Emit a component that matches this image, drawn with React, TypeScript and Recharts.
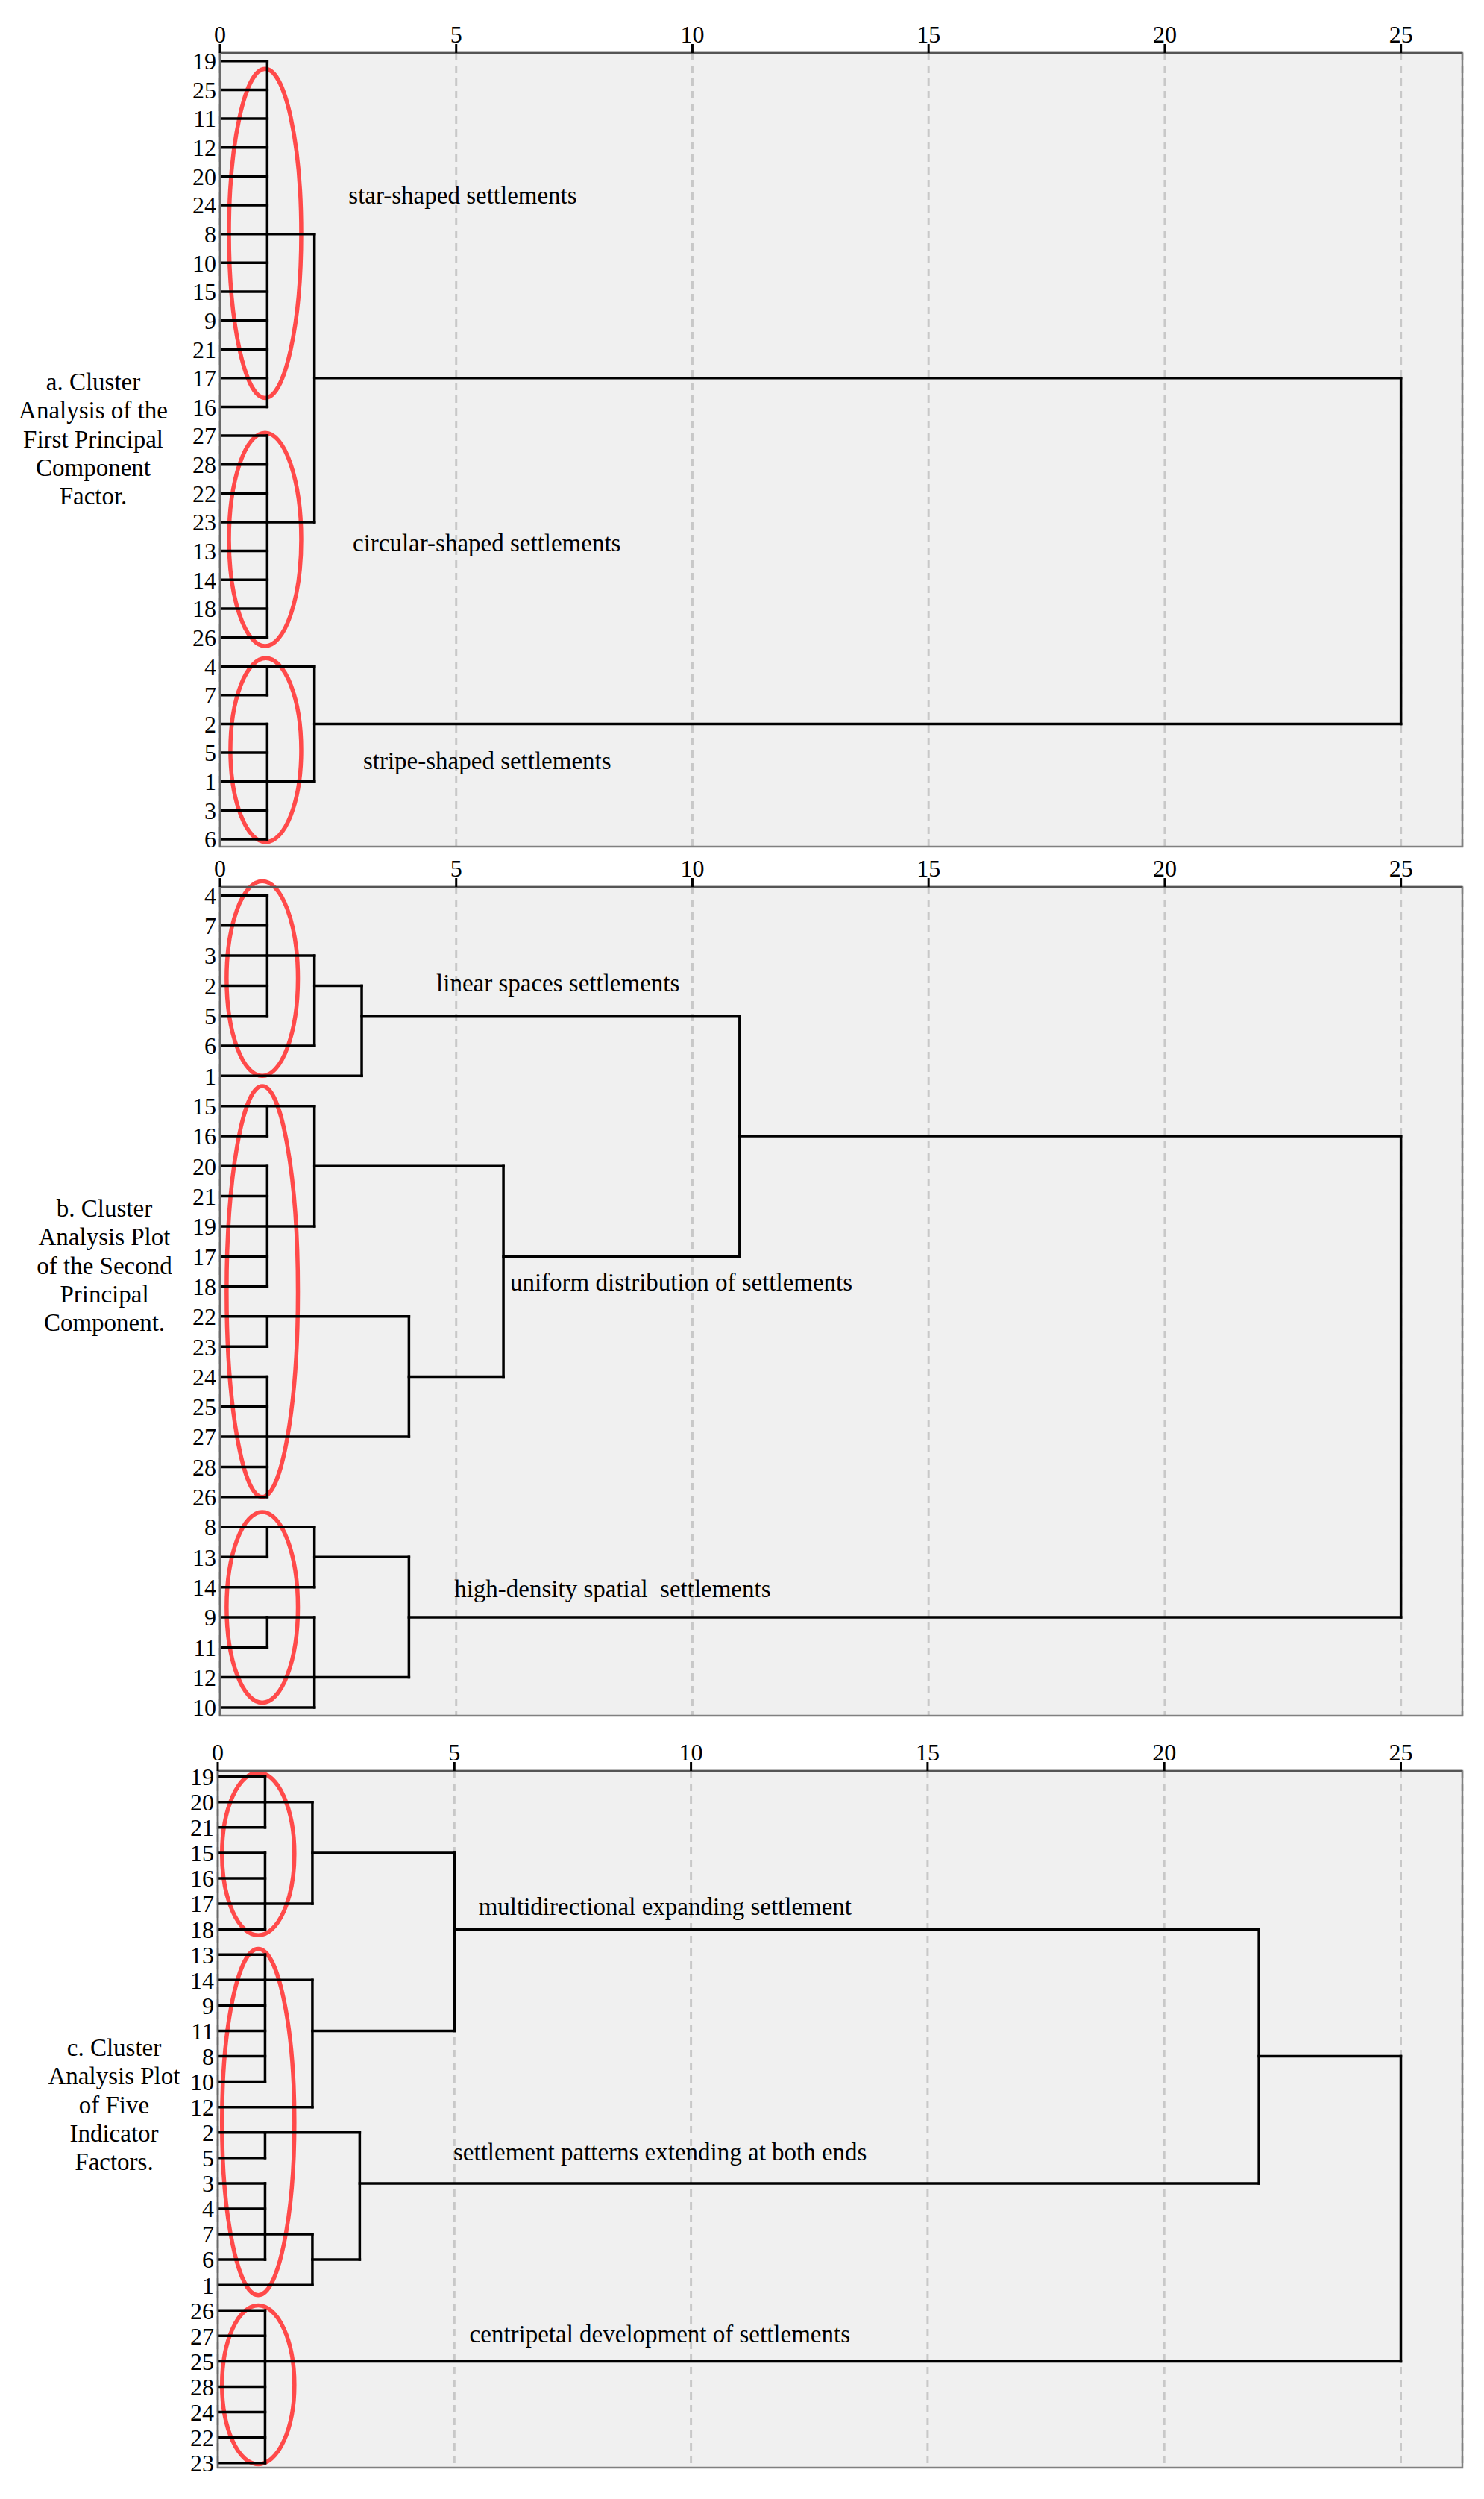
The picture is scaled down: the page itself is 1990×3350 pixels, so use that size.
import React from 'react';
import { ComposedChart, Line, XAxis, YAxis, CartesianGrid, ReferenceArea, ReferenceDot } from 'recharts';

const FONT = '"Liberation Serif", "Times New Roman", serif';
const X_TICKS = [0, 5, 10, 15, 20, 25];
const X_MAX = 26.3;

// leaf order (top to bottom) for each dendrogram
const LEAVES_A = ['19', '25', '11', '12', '20', '24', '8', '10', '15', '9', '21', '17', '16', '27', '28', '22', '23', '13', '14', '18', '26', '4', '7', '2', '5', '1', '3', '6'];
const LEAVES_B = ['4', '7', '3', '2', '5', '6', '1', '15', '16', '20', '21', '19', '17', '18', '22', '23', '24', '25', '27', '28', '26', '8', '13', '14', '9', '11', '12', '10'];
const LEAVES_C = ['19', '20', '21', '15', '16', '17', '18', '13', '14', '9', '11', '8', '10', '12', '2', '5', '3', '4', '7', '6', '1', '26', '27', '25', '28', '24', '22', '23'];

// merges: h = rescaled distance, at = leaf row where the joined cluster leaves, kids = leaves or '#node'
type Merge = { id: string; h: number; at: string; kids: string[] };

const MERGES_A: Merge[] = [
  { id: 'a1', h: 1, at: '8', kids: ['19', '25', '11', '12', '20', '24', '8', '10', '15', '9', '21', '17', '16'] },
  { id: 'a2', h: 1, at: '23', kids: ['27', '28', '22', '23', '13', '14', '18', '26'] },
  { id: 'a3', h: 2, at: '17', kids: ['#a1', '#a2'] },
  { id: 'a4', h: 1, at: '4', kids: ['4', '7'] },
  { id: 'a5', h: 1, at: '1', kids: ['2', '5', '1', '3', '6'] },
  { id: 'a6', h: 2, at: '2', kids: ['#a4', '#a5'] },
  { id: 'a7', h: 25, at: '', kids: ['#a3', '#a6'] },
];

const MERGES_B: Merge[] = [
  { id: 'b1', h: 1, at: '3', kids: ['4', '7', '3', '2', '5'] },
  { id: 'b2', h: 2, at: '2', kids: ['#b1', '6'] },
  { id: 'b3', h: 3, at: '5', kids: ['#b2', '1'] },
  { id: 'b4', h: 1, at: '15', kids: ['15', '16'] },
  { id: 'b5', h: 1, at: '19', kids: ['20', '21', '19', '17', '18'] },
  { id: 'b6', h: 2, at: '20', kids: ['#b4', '#b5'] },
  { id: 'b7', h: 1, at: '22', kids: ['22', '23'] },
  { id: 'b8', h: 1, at: '27', kids: ['24', '25', '27', '28', '26'] },
  { id: 'b9', h: 4, at: '24', kids: ['#b7', '#b8'] },
  { id: 'b10', h: 6, at: '17', kids: ['#b6', '#b9'] },
  { id: 'b11', h: 11, at: '16', kids: ['#b3', '#b10'] },
  { id: 'b12', h: 1, at: '8', kids: ['8', '13'] },
  { id: 'b13', h: 2, at: '13', kids: ['#b12', '14'] },
  { id: 'b14', h: 1, at: '9', kids: ['9', '11'] },
  { id: 'b15', h: 2, at: '12', kids: ['#b14', '12', '10'] },
  { id: 'b16', h: 4, at: '9', kids: ['#b13', '#b15'] },
  { id: 'b17', h: 25, at: '', kids: ['#b11', '#b16'] },
];

const MERGES_C: Merge[] = [
  { id: 'c1', h: 1, at: '20', kids: ['19', '20', '21'] },
  { id: 'c2', h: 1, at: '17', kids: ['15', '16', '17', '18'] },
  { id: 'c3', h: 2, at: '15', kids: ['#c1', '#c2'] },
  { id: 'c4', h: 1, at: '14', kids: ['13', '14', '9', '11', '8', '10'] },
  { id: 'c5', h: 2, at: '11', kids: ['#c4', '12'] },
  { id: 'c6', h: 5, at: '18', kids: ['#c3', '#c5'] },
  { id: 'c7', h: 1, at: '2', kids: ['2', '5'] },
  { id: 'c8', h: 1, at: '7', kids: ['3', '4', '7', '6'] },
  { id: 'c9', h: 2, at: '6', kids: ['#c8', '1'] },
  { id: 'c10', h: 3, at: '3', kids: ['#c7', '#c9'] },
  { id: 'c11', h: 22, at: '8', kids: ['#c6', '#c10'] },
  { id: 'c12', h: 1, at: '25', kids: ['26', '27', '25', '28', '24', '22', '23'] },
  { id: 'c13', h: 25, at: '', kids: ['#c11', '#c12'] },
];

// group captions (anchor in data units: distance, leaf row)
const NOTES_A = [
  { text: 'star-shaped settlements', x: 2.72, y: 4.67 },
  { text: 'circular-shaped settlements', x: 2.81, y: 16.73 },
  { text: 'stripe-shaped settlements', x: 3.03, y: 24.29 },
];
const NOTES_B = [
  { text: 'linear spaces settlements', x: 4.58, y: 2.92 },
  { text: 'uniform distribution of settlements', x: 6.14, y: 12.87 },
  { text: 'high-density spatial  settlements', x: 4.96, y: 23.07 },
];
const NOTES_C = [
  { text: 'multidirectional expanding settlement', x: 5.51, y: 5.12 },
  { text: 'settlement patterns extending at both ends', x: 4.98, y: 14.78 },
  { text: 'centripetal development of settlements', x: 5.32, y: 21.92 },
];

// red rings around the groups
const RINGS_A = [
  { x1: 0.19, x2: 1.72, y1: 0.27, y2: 11.69 },
  { x1: 0.19, x2: 1.72, y1: 12.9, y2: 20.3 },
  { x1: 0.22, x2: 1.72, y1: 20.72, y2: 27.1 },
];
const RINGS_B = [
  { x1: 0.14, x2: 1.65, y1: -0.48, y2: 6.0 },
  { x1: 0.14, x2: 1.65, y1: 6.34, y2: 20.0 },
  { x1: 0.14, x2: 1.65, y1: 20.5, y2: 26.84 },
];
const RINGS_C = [
  { x1: 0.09, x2: 1.62, y1: -0.16, y2: 6.24 },
  { x1: 0.09, x2: 1.62, y1: 6.77, y2: 20.4 },
  { x1: 0.09, x2: 1.62, y1: 20.8, y2: 27.05 },
];

const TITLE_A = ['a. Cluster', 'Analysis of the', 'First Principal', 'Component', 'Factor.'];
const TITLE_B = ['b. Cluster', 'Analysis Plot', 'of the Second', 'Principal', 'Component.'];
const TITLE_C = ['c. Cluster', 'Analysis Plot', 'of Five', 'Indicator', 'Factors.'];

type Pt = { x: number; y: number };

function buildSegments(leaves: string[], merges: Merge[]): Pt[][] {
  const byId = new Map(merges.map((m) => [m.id, m]));
  const place = (k: string): Pt => {
    if (k.startsWith('#')) {
      const m = byId.get(k.slice(1))!;
      return { x: m.h, y: leaves.indexOf(m.at) };
    }
    return { x: 0, y: leaves.indexOf(k) };
  };
  const segs: Pt[][] = [];
  merges.forEach((m) => {
    const ps = m.kids.map(place);
    const ys = ps.map((p) => p.y);
    segs.push([{ x: m.h, y: Math.min(...ys) }, { x: m.h, y: Math.max(...ys) }]);
    ps.forEach((p) => segs.push([{ x: p.x, y: p.y }, { x: m.h, y: p.y }]));
  });
  return segs;
}

// eslint-disable-next-line @typescript-eslint/no-explicit-any
const Ring = (p: any) => {
  const x = Math.min(p.x, p.x + p.width);
  const y = Math.min(p.y, p.y + p.height);
  const w = Math.abs(p.width);
  const h = Math.abs(p.height);
  return <ellipse cx={x + w / 2} cy={y + h / 2} rx={w / 2} ry={h / 2} fill="none" stroke="#ff4a4a" strokeWidth={5.5} />;
};

type PanelProps = {
  leaves: string[];
  merges: Merge[];
  notes: { text: string; x: number; y: number }[];
  rings: { x1: number; x2: number; y1: number; y2: number }[];
  title: string[];
  top: number;
  height: number;
  axisWidth: number;
  yDomain: [number, number];
  titleX: number;
  titleTop: number;
};

function Panel({ leaves, merges, notes, rings, title, top, height, axisWidth, yDomain, titleX, titleTop }: PanelProps) {
  const segs = buildSegments(leaves, merges);
  const rows = leaves.map((_, i) => i);
  return (
    <>
      <div
        style={{
          position: 'absolute',
          left: titleX - 150,
          top: titleTop,
          width: 300,
          textAlign: 'center',
          fontFamily: FONT,
          fontSize: 33,
          lineHeight: '38.3px',
          color: '#000',
        }}
      >
        {title.map((t) => (
          <div key={t}>{t}</div>
        ))}
      </div>
      <div style={{ position: 'absolute', left: 0, top }}>
        <ComposedChart width={1990} height={height + 25} margin={{ top: 0, right: 29, bottom: 30, left: 0 }}>
          <CartesianGrid
            horizontal={false}
            stroke="#c8c8c8"
            strokeWidth={3}
            strokeDasharray="10 7"
            fill="#f0f0f0"
            fillOpacity={1}
          />
          <XAxis
            type="number"
            dataKey="x"
            orientation="top"
            domain={[0, X_MAX]}
            ticks={X_TICKS}
            interval={0}
            allowDataOverflow
            height={70}
            tickSize={12}
            tickMargin={2}
            axisLine={{ stroke: '#555', strokeWidth: 2.5 }}
            tickLine={{ stroke: '#000', strokeWidth: 3 }}
            tick={{ fill: '#000', fontSize: 32, fontFamily: FONT }}
          />
          <YAxis
            type="number"
            dataKey="y"
            domain={yDomain}
            reversed
            ticks={rows}
            interval={0}
            allowDataOverflow
            width={axisWidth}
            tickFormatter={(i: number) => leaves[i] ?? ''}
            tickLine={false}
            tickSize={0}
            tickMargin={5}
            axisLine={{ stroke: '#6a6a6a', strokeWidth: 2.5 }}
            tick={{ fill: '#000', fontSize: 32, fontFamily: FONT }}
          />
          <ReferenceArea
            x1={0}
            x2={X_MAX}
            y1={yDomain[0]}
            y2={yDomain[1]}
            fill="none"
            stroke="#808080"
            strokeWidth={2.5}
            ifOverflow="visible"
          />
          {segs.map((s, i) => (
            <Line
              key={i}
              data={s}
              dataKey="y"
              type="linear"
              stroke="#000"
              strokeWidth={3.5}
              strokeLinecap="square"
              dot={false}
              activeDot={false}
              legendType="none"
              isAnimationActive={false}
            />
          ))}
          {rings.map((r, i) => (
            <ReferenceArea key={`r${i}`} x1={r.x1} x2={r.x2} y1={r.y1} y2={r.y2} ifOverflow="visible" shape={Ring} />
          ))}
          {notes.map((n) => (
            <ReferenceDot
              key={n.text}
              x={n.x}
              y={n.y}
              r={1}
              ifOverflow="visible"
              // eslint-disable-next-line @typescript-eslint/no-explicit-any
              shape={(p: any) => (
                <text x={p.cx} y={p.cy} dominantBaseline="central" fontFamily={FONT} fontSize={33} fill="#000" style={{ whiteSpace: 'pre' }}>
                  {n.text}
                </text>
              )}
            />
          ))}
        </ComposedChart>
      </div>
    </>
  );
}

export default function App() {
  return (
    <div style={{ position: 'absolute', left: 0, top: 0, width: 1990, height: 3350, background: '#fff', overflow: 'hidden' }}>
      <Panel
        leaves={LEAVES_A}
        merges={MERGES_A}
        notes={NOTES_A}
        rings={RINGS_A}
        title={TITLE_A}
        top={1}
        height={1139}
        axisWidth={295}
        yDomain={[-0.28, 27.26]}
        titleX={125}
        titleTop={493}
      />
      <Panel
        leaves={LEAVES_B}
        merges={MERGES_B}
        notes={NOTES_B}
        rings={RINGS_B}
        title={TITLE_B}
        top={1119}
        height={1186}
        axisWidth={295}
        yDomain={[-0.285, 27.275]}
        titleX={140}
        titleTop={1601}
      />
      <Panel
        leaves={LEAVES_C}
        merges={MERGES_C}
        notes={NOTES_C}
        rings={RINGS_C}
        title={TITLE_C}
        top={2304}
        height={1009}
        axisWidth={292}
        yDomain={[-0.226, 27.185]}
        titleX={153}
        titleTop={2726}
      />
    </div>
  );
}
